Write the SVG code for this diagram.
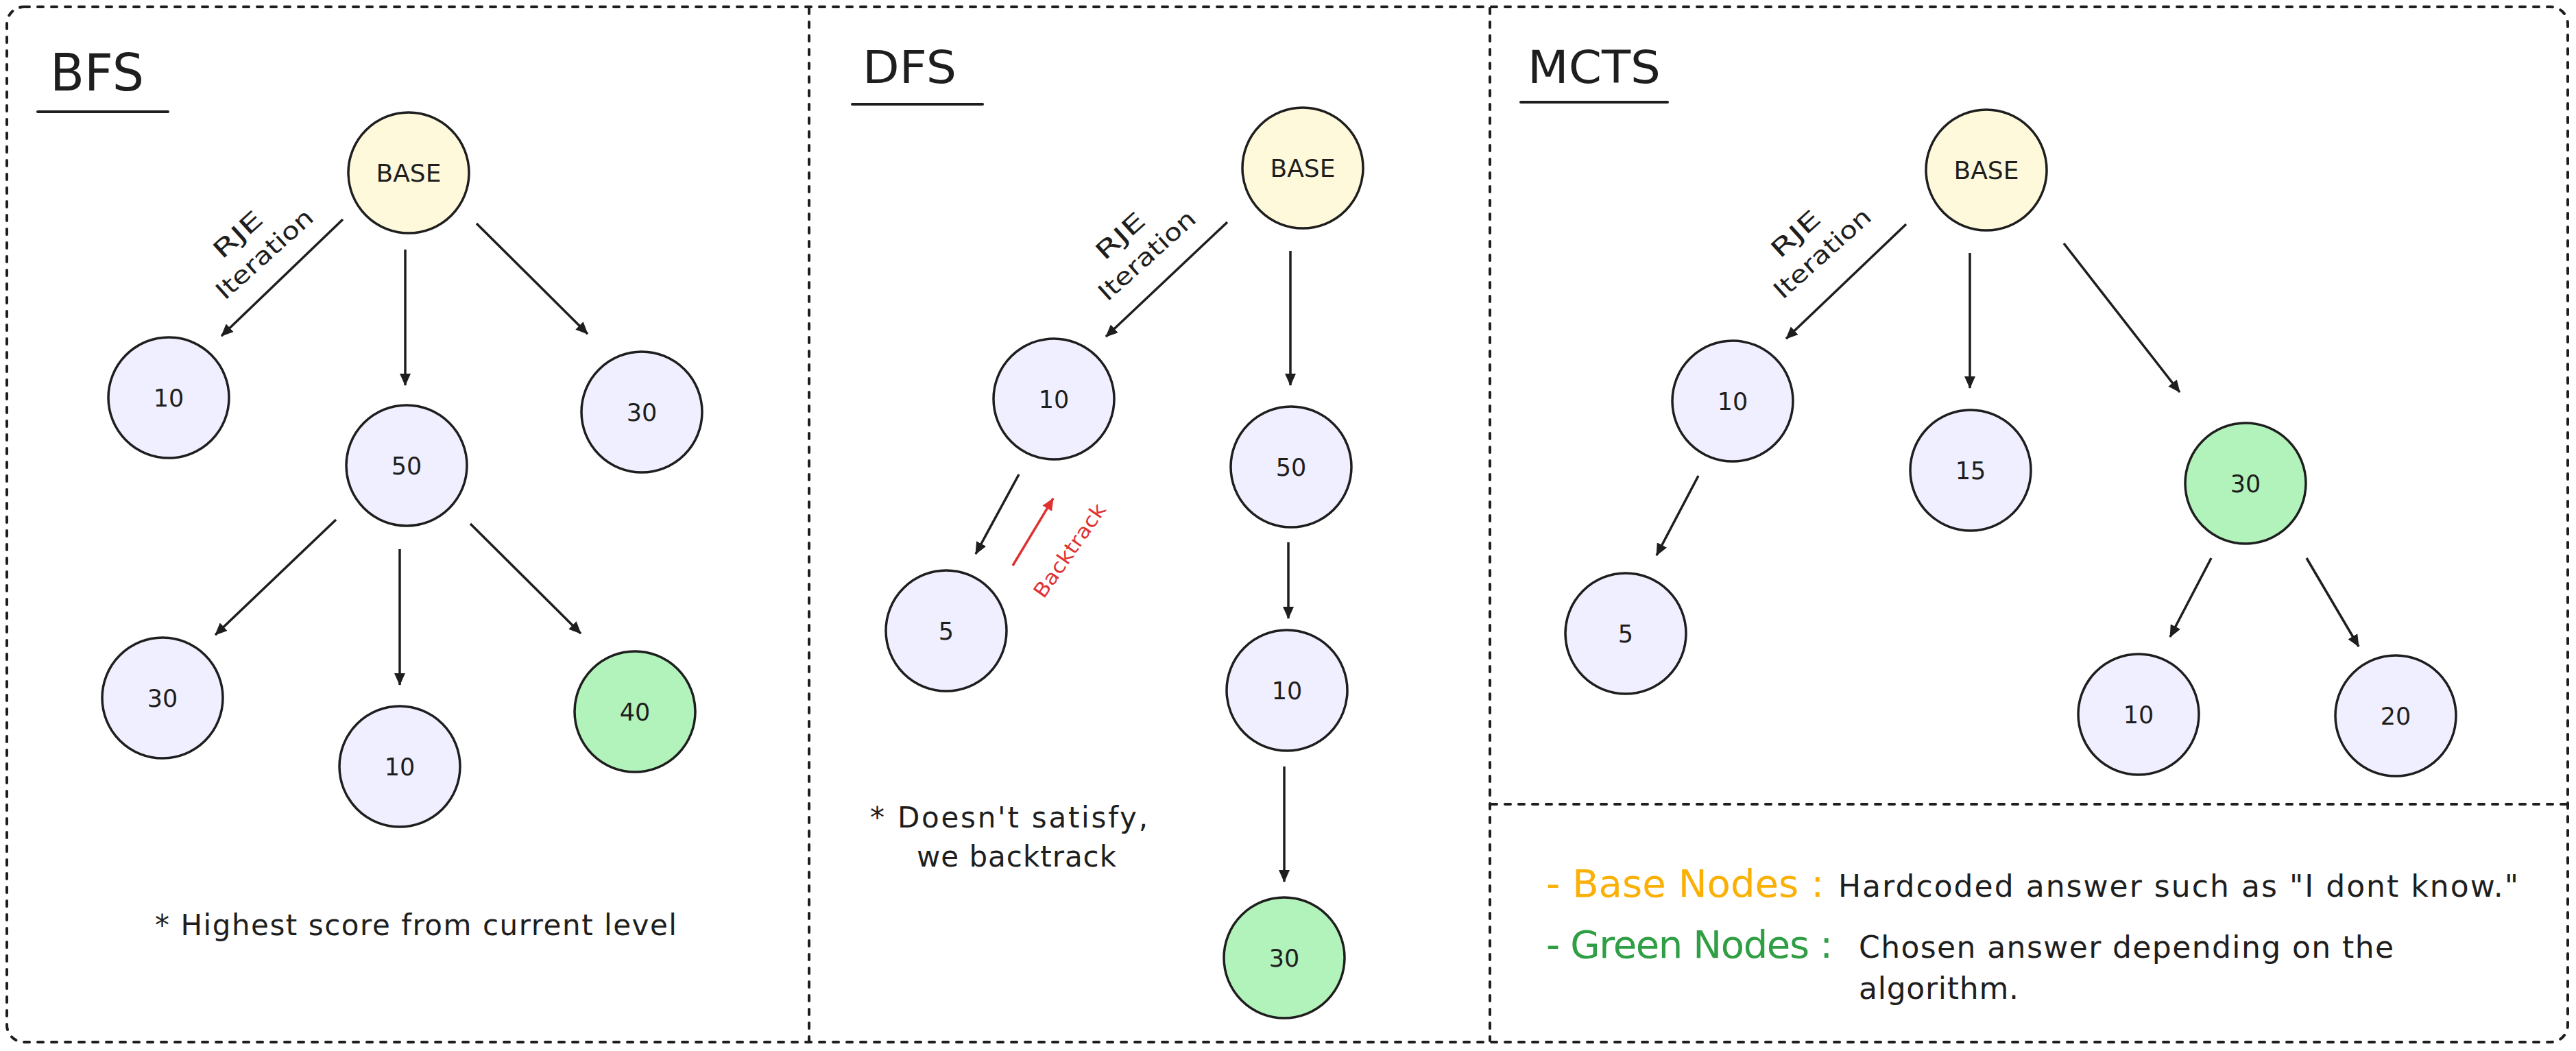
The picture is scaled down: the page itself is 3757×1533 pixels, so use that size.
<svg xmlns="http://www.w3.org/2000/svg" width="3757" height="1533" viewBox="0 0 3757 1533">
<defs>
<marker id="ah" viewBox="0 0 18 16" refX="17" refY="8" markerWidth="18" markerHeight="16" markerUnits="userSpaceOnUse" orient="auto">
<path d="M0,0 L18,8 L0,16 z" fill="#1e1e1e"/>
</marker>
<marker id="ahr" viewBox="0 0 18 16" refX="17" refY="8" markerWidth="18" markerHeight="16" markerUnits="userSpaceOnUse" orient="auto">
<path d="M0,0 L18,8 L0,16 z" fill="#e03131"/>
</marker>
</defs>
<style>
text{font-family:"DejaVu Sans","Liberation Sans",sans-serif;fill:#1e1e1e}
.frame{fill:none;stroke:#1e1e1e;stroke-width:4;stroke-dasharray:8 12;stroke-linecap:round}
.ul{stroke:#1e1e1e;stroke-width:4;stroke-linecap:round}
.title{font-size:66px}
.n{stroke:#1e1e1e;stroke-width:3.5;fill:#f0efff}
.base{fill:#fff9db}
.green{fill:#b2f2bb}
.nt{font-size:35px;text-anchor:middle}
.bt{font-size:36px;text-anchor:middle}
.lbl{font-size:35px;text-anchor:middle}
.e{stroke:#1e1e1e;stroke-width:3.5;fill:none;marker-end:url(#ah)}
.er{stroke:#e03131;stroke-width:3.5;fill:none;marker-end:url(#ahr)}
.note{font-size:42px}
.leg{font-size:44px}
.key{font-size:56px}
</style>
<rect width="3757" height="1533" fill="#ffffff"/>

<g id="frames">
<rect class="frame" x="10" y="10" width="3735" height="1510" rx="25"/>
<line class="frame" x1="1180" y1="12" x2="1180" y2="1518"/>
<line class="frame" x1="2173" y1="12" x2="2173" y2="1518"/>
<line class="frame" x1="2175" y1="1173" x2="3743" y2="1173"/>
</g>

<g id="titles">
<text x="73" y="132" style="font-size:74px" textLength="137" lengthAdjust="spacingAndGlyphs">BFS</text>
<line class="ul" x1="55" y1="163" x2="245" y2="163"/>
<text class="title" x="1258" y="121" textLength="137" lengthAdjust="spacingAndGlyphs">DFS</text>
<line class="ul" x1="1243" y1="152" x2="1433" y2="152"/>
<text class="title" x="2228" y="121" textLength="194" lengthAdjust="spacingAndGlyphs">MCTS</text>
<line class="ul" x1="2218" y1="149" x2="2432" y2="149"/>
</g>

<g id="connectors">
<line class="e" x1="500" y1="320" x2="323" y2="490"/>
<line class="e" x1="591" y1="364" x2="591" y2="562"/>
<line class="e" x1="695" y1="326" x2="857" y2="487"/>
<line class="e" x1="490" y1="758" x2="314" y2="926"/>
<line class="e" x1="583" y1="801" x2="583" y2="999"/>
<line class="e" x1="686" y1="764" x2="847" y2="924"/>

<line class="e" x1="1790" y1="324" x2="1613" y2="491"/>
<line class="e" x1="1882" y1="366" x2="1882" y2="562"/>
<line class="e" x1="1486" y1="692" x2="1423" y2="808"/>
<line class="er" x1="1477" y1="825" x2="1536" y2="727"/>
<line class="e" x1="1879" y1="791" x2="1879" y2="902"/>
<line class="e" x1="1873" y1="1118" x2="1873" y2="1286"/>

<line class="e" x1="2780" y1="327" x2="2605" y2="494"/>
<line class="e" x1="2873" y1="369" x2="2873" y2="566"/>
<line class="e" x1="3010" y1="355" x2="3179" y2="572"/>
<line class="e" x1="2477" y1="694" x2="2416" y2="810"/>
<line class="e" x1="3225" y1="814" x2="3165" y2="929"/>
<line class="e" x1="3364" y1="814" x2="3440" y2="943"/>

<g transform="translate(366,356) rotate(-42)">
<text class="lbl" x="-5" y="-11" textLength="84" lengthAdjust="spacingAndGlyphs">RJE</text>
<text class="lbl" x="5" y="36" textLength="177" lengthAdjust="spacingAndGlyphs">Iteration</text>
</g>
<g transform="translate(1653,358) rotate(-42)">
<text class="lbl" x="-5" y="-11" textLength="84" lengthAdjust="spacingAndGlyphs">RJE</text>
<text class="lbl" x="5" y="36" textLength="177" lengthAdjust="spacingAndGlyphs">Iteration</text>
</g>
<g transform="translate(2638,355) rotate(-42)">
<text class="lbl" x="-5" y="-11" textLength="84" lengthAdjust="spacingAndGlyphs">RJE</text>
<text class="lbl" x="5" y="36" textLength="177" lengthAdjust="spacingAndGlyphs">Iteration</text>
</g>
<text transform="translate(1560,803) rotate(-55)" x="0" y="10" style="font-size:29px;text-anchor:middle;fill:#e03131" textLength="160" lengthAdjust="spacingAndGlyphs">Backtrack</text>
</g>

<g id="bfs-base"><circle class="n base" cx="596" cy="252" r="88"/><text class="bt" x="596" y="265">BASE</text></g>
<g id="bfs-10"><circle class="n" cx="246" cy="580" r="88"/><text class="nt" x="246" y="593">10</text></g>
<g id="bfs-50"><circle class="n" cx="593" cy="679" r="88"/><text class="nt" x="593" y="692">50</text></g>
<g id="bfs-30a"><circle class="n" cx="936" cy="601" r="88"/><text class="nt" x="936" y="614">30</text></g>
<g id="bfs-30b"><circle class="n" cx="237" cy="1018" r="88"/><text class="nt" x="237" y="1031">30</text></g>
<g id="bfs-10b"><circle class="n" cx="583" cy="1118" r="88"/><text class="nt" x="583" y="1131">10</text></g>
<g id="bfs-40"><circle class="n green" cx="926" cy="1038" r="88"/><text class="nt" x="926" y="1051">40</text></g>

<g id="dfs-base"><circle class="n base" cx="1900" cy="245" r="88"/><text class="bt" x="1900" y="258">BASE</text></g>
<g id="dfs-10"><circle class="n" cx="1537" cy="582" r="88"/><text class="nt" x="1537" y="595">10</text></g>
<g id="dfs-50"><circle class="n" cx="1883" cy="681" r="88"/><text class="nt" x="1883" y="694">50</text></g>
<g id="dfs-5"><circle class="n" cx="1380" cy="920" r="88"/><text class="nt" x="1380" y="933">5</text></g>
<g id="dfs-10b"><circle class="n" cx="1877" cy="1007" r="88"/><text class="nt" x="1877" y="1020">10</text></g>
<g id="dfs-30"><circle class="n green" cx="1873" cy="1397" r="88"/><text class="nt" x="1873" y="1410">30</text></g>

<g id="mcts-base"><circle class="n base" cx="2897" cy="248" r="88"/><text class="bt" x="2897" y="261">BASE</text></g>
<g id="mcts-10"><circle class="n" cx="2527" cy="585" r="88"/><text class="nt" x="2527" y="598">10</text></g>
<g id="mcts-15"><circle class="n" cx="2874" cy="686" r="88"/><text class="nt" x="2874" y="699">15</text></g>
<g id="mcts-30"><circle class="n green" cx="3275" cy="705" r="88"/><text class="nt" x="3275" y="718">30</text></g>
<g id="mcts-5"><circle class="n" cx="2371" cy="924" r="88"/><text class="nt" x="2371" y="937">5</text></g>
<g id="mcts-10b"><circle class="n" cx="3119" cy="1042" r="88"/><text class="nt" x="3119" y="1055">10</text></g>
<g id="mcts-20"><circle class="n" cx="3494" cy="1044" r="88"/><text class="nt" x="3494" y="1057">20</text></g>

<g id="notes">
<text class="note" x="226" y="1364" textLength="761">* Highest score from current level</text>
<text class="note" x="1269" y="1207" textLength="405">* Doesn't satisfy,</text>
<text class="note" x="1337" y="1264" textLength="291">we backtrack</text>
</g>

<g id="legend">
<text class="key" x="2255" y="1308" textLength="405" style="fill:#fab005">- Base Nodes :</text>
<text class="leg" x="2681" y="1308" textLength="992">Hardcoded answer such as "I dont know."</text>
<text class="key" x="2255" y="1397" textLength="418" style="fill:#2f9e44">- Green Nodes :</text>
<text class="leg" x="2711" y="1397" textLength="780">Chosen answer depending on the</text>
<text class="leg" x="2711" y="1457" textLength="233">algorithm.</text>
</g>
</svg>
